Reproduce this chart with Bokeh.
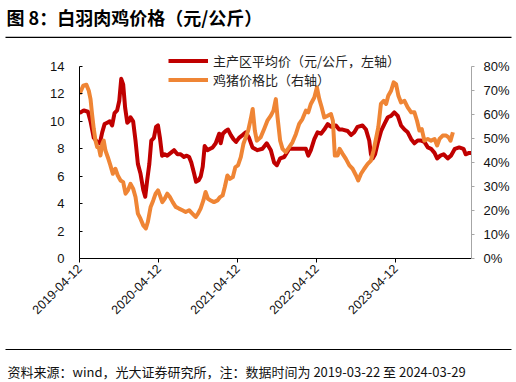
import math
import pandas as pd
from bokeh.plotting import figure
from bokeh.layouts import column
from bokeh.models import (Range1d, LinearAxis, FixedTicker, DatetimeTickFormatter,
                          PrintfTickFormatter, Label, BoxAnnotation, Legend, LegendItem,
                          ColumnDataSource)
from bokeh.embed import file_html
from bokeh.resources import INLINE

# ---------------- data ----------------
title_text = "图 8：白羽肉鸡价格（元/公斤）"
source_text = "资料来源：wind，光大证券研究所，注：数据时间为 2019-03-22 至 2024-03-29"
name_price = "主产区平均价（元/公斤，左轴）"
name_ratio = "鸡猪价格比（右轴）"

x_tick_labels = ["2019-04-12", "2020-04-12", "2021-04-12", "2022-04-12", "2023-04-12"]
left_ticks = [0, 2, 4, 6, 8, 10, 12, 14]
right_ticks = [0, 10, 20, 30, 40, 50, 60, 70, 80]

price_dates = [
    "2019-04-12", "2019-05-02", "2019-05-21", "2019-06-02", "2019-06-17", "2019-07-03", "2019-07-15",
    "2019-07-26", "2019-08-06", "2019-08-18", "2019-08-30", "2019-09-10", "2019-09-21", "2019-10-03",
    "2019-10-13", "2019-10-22", "2019-10-31", "2019-11-09", "2019-11-19", "2019-11-26", "2019-12-04",
    "2019-12-16", "2019-12-27",
    "2020-01-07", "2020-01-19", "2020-02-01", "2020-02-10", "2020-02-19", "2020-02-29", "2020-03-09",
    "2020-03-21", "2020-03-31", "2020-04-09", "2020-04-18", "2020-04-28", "2020-05-10", "2020-05-22",
    "2020-06-07", "2020-06-22", "2020-07-08", "2020-07-23", "2020-08-07", "2020-08-20", "2020-08-31",
    "2020-09-10", "2020-09-23", "2020-10-02", "2020-10-14", "2020-10-24", "2020-11-02", "2020-11-11",
    "2020-11-24", "2020-12-06", "2020-12-18",
    "2021-01-01", "2021-01-17", "2021-01-24", "2021-02-03", "2021-02-16", "2021-02-27", "2021-03-12",
    "2021-03-24", "2021-04-05", "2021-04-19", "2021-05-05", "2021-05-20", "2021-06-04", "2021-06-20",
    "2021-07-13", "2021-08-05", "2021-08-25", "2021-09-13", "2021-09-28", "2021-10-11", "2021-10-26",
    "2021-11-14", "2021-12-07", "2021-12-30",
    "2022-01-30", "2022-02-22", "2022-03-05", "2022-03-17", "2022-04-02", "2022-04-17", "2022-05-03",
    "2022-05-18", "2022-06-03", "2022-06-18", "2022-07-11", "2022-07-26", "2022-08-11", "2022-09-03",
    "2022-09-19", "2022-10-04", "2022-10-19", "2022-11-11", "2022-11-27", "2022-12-12", "2022-12-20",
    "2022-12-28",
    "2023-01-08", "2023-01-20", "2023-02-05", "2023-02-20", "2023-03-08", "2023-03-23", "2023-04-07",
    "2023-04-23", "2023-05-08", "2023-05-24", "2023-06-08", "2023-06-24", "2023-07-09", "2023-07-24",
    "2023-08-09", "2023-08-24", "2023-09-09", "2023-09-24", "2023-10-10", "2023-10-22", "2023-11-06",
    "2023-11-21", "2023-12-10", "2023-12-25",
    "2024-01-12", "2024-02-01", "2024-02-21", "2024-03-02", "2024-03-18", "2024-03-29",
]
price_values = [
    10.6, 10.8, 10.7, 10.0, 8.8, 8.5, 8.4, 9.2, 9.8, 9.9, 10.0, 9.7, 10.6, 10.8, 11.5, 13.1, 12.7,
    11.0, 9.9, 10.0, 10.3, 10.0, 8.6,
    6.9, 6.2, 5.0, 4.5, 5.7, 6.9, 8.6, 8.8, 9.6, 9.7, 8.8, 7.5, 7.6, 7.5, 7.7, 7.9, 7.6, 7.6, 7.4,
    7.5, 7.4, 7.0, 6.2, 5.6, 5.7, 6.0, 6.7, 8.2, 7.9, 8.0, 8.1,
    8.4, 9.1, 8.4, 9.1, 9.3, 9.4, 9.0, 8.7, 8.5, 8.8, 9.0, 9.2, 8.8, 8.1, 7.9, 8.0, 8.4, 7.9, 7.0,
    6.8, 7.3, 7.4, 8.0, 8.0,
    8.0, 8.0, 7.5, 7.9, 8.7, 9.2, 9.1, 9.4, 9.8, 9.6, 9.7, 9.4, 9.4, 9.3, 9.0, 9.2, 9.6, 9.7, 9.4,
    8.6, 7.6, 7.3,
    7.6, 8.4, 9.3, 9.8, 10.3, 10.4, 10.65, 10.4, 9.7, 9.4, 9.2, 8.7, 8.4, 8.6, 8.6, 8.5, 8.1, 8.0,
    7.7, 7.3, 7.5, 7.6, 7.3, 7.5,
    8.0, 8.1, 8.0, 7.6, 7.7, 7.7,
]

ratio_dates = [
    "2019-04-12", "2019-04-29", "2019-05-14", "2019-05-25", "2019-06-02", "2019-06-09", "2019-06-17",
    "2019-06-25", "2019-07-03", "2019-07-10", "2019-07-18", "2019-07-26", "2019-08-02", "2019-08-10",
    "2019-08-21", "2019-09-02", "2019-09-13", "2019-09-25", "2019-10-06", "2019-10-19", "2019-10-31",
    "2019-11-11", "2019-11-22", "2019-12-04", "2019-12-16", "2019-12-27",
    "2020-01-07", "2020-01-19", "2020-02-01", "2020-02-13", "2020-02-22", "2020-03-06", "2020-03-18",
    "2020-03-29", "2020-04-09", "2020-04-18", "2020-04-29", "2020-05-10", "2020-05-22", "2020-06-03",
    "2020-06-16", "2020-06-30", "2020-07-15", "2020-07-31", "2020-08-15", "2020-08-31", "2020-09-15",
    "2020-09-30", "2020-10-11", "2020-10-23", "2020-11-05", "2020-11-15", "2020-11-26", "2020-12-09",
    "2020-12-24",
    "2021-01-09", "2021-01-21", "2021-02-02", "2021-02-12", "2021-02-24", "2021-03-08", "2021-03-21",
    "2021-04-02", "2021-04-14", "2021-04-27", "2021-05-09", "2021-05-20", "2021-05-31", "2021-06-12",
    "2021-06-21", "2021-07-01", "2021-07-10", "2021-07-28", "2021-08-13", "2021-08-28", "2021-09-13",
    "2021-09-25", "2021-10-06", "2021-10-14", "2021-10-26", "2021-11-06", "2021-11-21", "2021-12-07",
    "2021-12-22",
    "2022-01-07", "2022-01-22", "2022-02-06", "2022-02-22", "2022-03-05", "2022-03-17", "2022-04-02",
    "2022-04-14", "2022-04-25", "2022-05-06", "2022-05-18", "2022-06-03", "2022-06-18", "2022-06-27",
    "2022-07-06", "2022-07-19", "2022-07-28", "2022-08-11", "2022-08-26", "2022-09-11", "2022-09-26",
    "2022-10-12", "2022-10-22", "2022-11-04", "2022-11-19", "2022-12-05", "2022-12-20",
    "2023-01-01", "2023-01-12", "2023-01-23", "2023-02-04", "2023-02-17", "2023-02-28", "2023-03-10",
    "2023-03-23", "2023-04-04", "2023-04-15", "2023-04-26", "2023-05-08", "2023-05-24", "2023-06-08",
    "2023-06-24", "2023-07-09", "2023-07-21", "2023-08-01", "2023-08-12", "2023-08-24", "2023-09-09",
    "2023-09-24", "2023-10-10", "2023-10-22", "2023-11-02", "2023-11-17", "2023-12-03", "2023-12-14",
    "2023-12-23",
    "2024-01-03",
]
ratio_values = [
    68.5, 72.0, 72.4, 69.9, 66.4, 60.2, 54.0, 49.1, 46.4, 46.4, 42.9, 47.7, 49.1, 45.0, 42.2, 38.8,
    35.3, 37.4, 34.6, 32.5, 31.8, 27.0, 28.4, 31.1, 29.1, 25.6,
    18.7, 16.6, 13.8, 12.5, 15.2, 21.5, 24.2, 27.0, 28.4, 26.3, 23.5, 24.9, 27.0, 25.6, 23.5, 21.5,
    20.8, 20.1, 19.4, 20.1, 18.7, 17.3, 18.7, 20.8, 24.2, 27.7, 24.9, 24.2, 23.5,
    24.2, 25.6, 26.3, 29.8, 34.6, 33.2, 33.9, 38.1, 38.8, 42.2, 47.7, 50.5, 53.3, 58.1, 62.3, 53.3,
    49.1, 50.5, 54.0, 57.4, 59.5, 61.6, 66.4, 58.8, 49.1, 45.7, 44.3, 46.4, 48.4,
    51.9, 56.1, 58.1, 61.6, 60.9, 64.4, 67.1, 71.3, 66.4, 63.0, 58.8, 59.5, 60.2, 57.4, 42.9, 42.9,
    45.7, 43.6, 41.5, 38.8, 37.4, 34.6, 32.5, 35.3, 37.4, 39.4, 40.8,
    45.0, 49.8, 54.7, 64.4, 65.7, 64.4, 67.8, 69.9, 73.4, 72.7, 67.8, 65.0, 65.7, 63.0, 60.9, 60.9,
    57.4, 53.3, 53.9, 49.1, 49.8, 49.1, 49.8, 47.1, 49.8, 51.2, 51.2, 50.5, 49.1,
    52.6,
]

x_start, x_end = "2019-04-12", "2024-03-29"
left_max, right_max = 14, 80

# ---------------- layout constants ----------------
W, H = 516, 382
HEAD_H = 45          # header strip (title + rule)
FOOT_H = 42          # footer strip (rule + source)
MAIN_H = H - HEAD_H - FOOT_H
FL, FR = 79, 471     # frame left / right (page px)
AX_TOP, FB = 66, 258 # top of value axes / frame bottom (page px)
RED = "#C00000"
ORANGE = "#EF8535"
CJK = "Noto Sans CJK SC"
LAT = "Liberation Sans"


def ms(s):
    return pd.Timestamp(s).value / 1e6


def strip(height):
    f = figure(width=W, height=height, output_backend="svg", toolbar_location=None,
               x_range=Range1d(0, W), y_range=Range1d(height, 0),
               x_axis_location=None, y_axis_location=None,
               min_border=0, min_border_left=0, min_border_right=0,
               min_border_top=0, min_border_bottom=0, frame_align=False)
    f.outline_line_color = None
    f.grid.visible = False
    f.background_fill_color = "white"
    f.border_fill_color = "white"
    return f


# ---------------- header ----------------
head = strip(HEAD_H)
head.add_layout(Label(x=6, y=16, text=title_text, text_font=CJK, text_font_size="18px",
                      text_font_style="bold", text_color="#000000", text_baseline="middle"))
head.add_layout(BoxAnnotation(left=5, right=511, top=36.2, bottom=37.4, fill_color="#000000",
                              fill_alpha=1, line_color=None))

# ---------------- main chart ----------------
frame_h = FB - HEAD_H
px_per_unit = (FB - AX_TOP) / left_max
src_price = ColumnDataSource(dict(x=pd.to_datetime(price_dates), y=price_values))
src_ratio = ColumnDataSource(dict(x=pd.to_datetime(ratio_dates), y=ratio_values))

p = figure(width=W, height=MAIN_H, x_axis_type="datetime", output_backend="svg",
           toolbar_location=None,
           x_range=Range1d(ms(x_start), ms(x_end)),
           y_range=Range1d(0, frame_h / px_per_unit),
           min_border_left=FL, min_border_right=W - FR, min_border_top=0,
           min_border_bottom=HEAD_H + MAIN_H - FB, frame_align=False)
p.outline_line_color = None
p.xgrid.visible = False
p.ygrid.visible = False
p.background_fill_color = "white"
p.border_fill_color = "white"
p.extra_y_ranges = {"pct": Range1d(0, frame_h / ((FB - AX_TOP) / right_max))}

ya = p.yaxis[0]
ya.bounds = (0, left_max)
ya.ticker = FixedTicker(ticks=left_ticks)
ya.axis_line_color = "#000000"
ya.major_tick_line_color = "#000000"
ya.major_tick_in = 3
ya.major_tick_out = 0
ya.minor_tick_line_color = None
ya.major_label_text_font = LAT
ya.major_label_text_font_size = "13px"
ya.major_label_text_color = "#111111"
ya.major_label_standoff = 15

ra = LinearAxis(y_range_name="pct", ticker=FixedTicker(ticks=right_ticks),
                formatter=PrintfTickFormatter(format="%d%%"), bounds=(0, right_max))
ra.axis_line_color = "#A6A6A6"
ra.major_tick_line_color = "#A6A6A6"
ra.major_tick_in = 0
ra.major_tick_out = 3
ra.minor_tick_line_color = None
ra.major_label_text_font = LAT
ra.major_label_text_font_size = "13px"
ra.major_label_text_color = "#111111"
ra.major_label_standoff = 9
p.add_layout(ra, "right")

xa = p.xaxis[0]
xa.ticker = FixedTicker(ticks=[ms(t) for t in x_tick_labels])
fmt = "%Y-%m-%d"
xa.formatter = DatetimeTickFormatter(milliseconds=fmt, seconds=fmt, minsec=fmt, minutes=fmt,
                                     hourmin=fmt, hours=fmt, days=fmt, months=fmt, years=fmt)
xa.major_label_orientation = math.pi / 4
xa.axis_line_color = "#000000"
xa.major_tick_line_color = "#000000"
xa.major_tick_in = 0
xa.major_tick_out = 4
xa.minor_tick_line_color = None
xa.major_label_text_font = LAT
xa.major_label_text_font_size = "12.5px"
xa.major_label_text_color = "#111111"
xa.major_label_standoff = 4

r_price = p.line(x="x", y="y", source=src_price, line_color=RED, line_width=4,
                 line_join="round")
r_ratio = p.line(x="x", y="y", source=src_ratio, line_color=ORANGE, line_width=4,
                 line_join="round", y_range_name="pct")

legend = Legend(items=[LegendItem(label=name_price, renderers=[r_price]),
                       LegendItem(label=name_ratio, renderers=[r_ratio])],
                location=(168 - FL, FB - 89), orientation="vertical",
                border_line_color=None, background_fill_alpha=0, padding=0, margin=0,
                spacing=0, label_height=17, glyph_height=17, glyph_width=40,
                label_standoff=5, label_text_font=CJK, label_text_font_size="13px",
                label_text_color="#222222")
p.add_layout(legend)

# ---------------- footer ----------------
foot = strip(FOOT_H)
foot.add_layout(BoxAnnotation(left=5, right=511, top=8.4, bottom=9.6, fill_color="#000000",
                              fill_alpha=1, line_color=None))
foot.add_layout(Label(x=7, y=31, text=source_text, text_font=CJK, text_font_size="13px",
                      text_color="#111111", text_baseline="middle"))

layout = column(head, p, foot, spacing=0)
open("out.html", "w").write(file_html(layout, INLINE))
